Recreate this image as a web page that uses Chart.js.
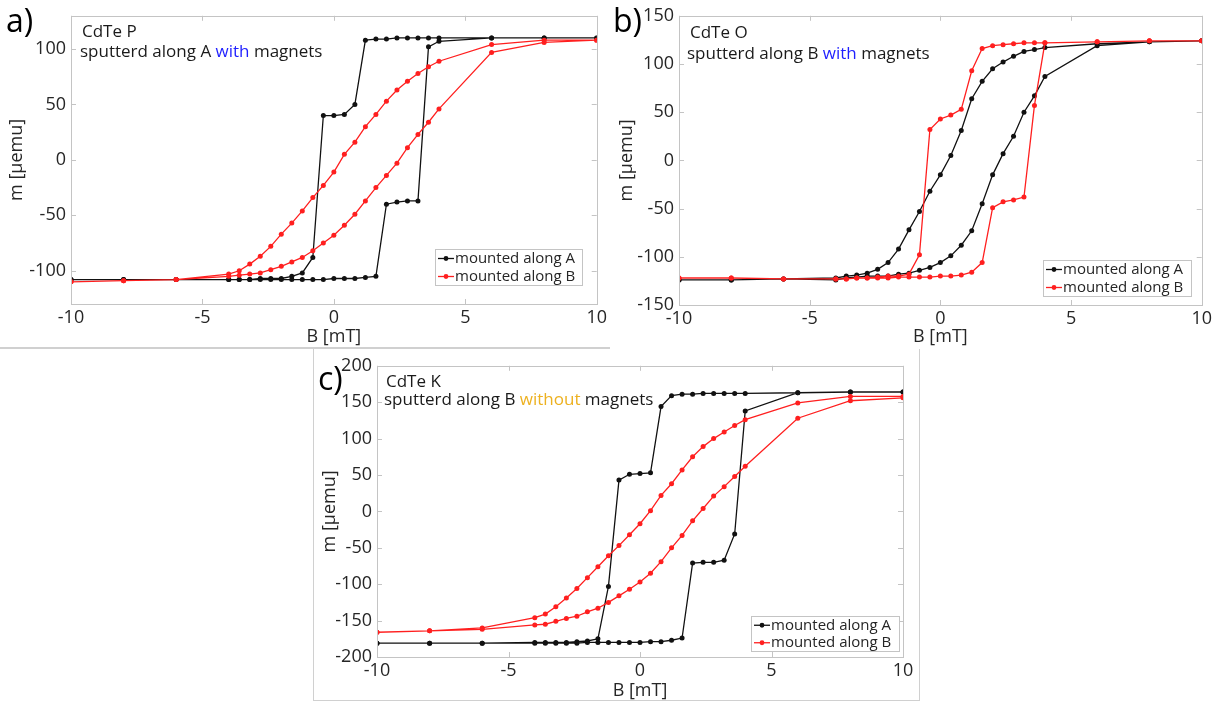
<!DOCTYPE html>
<html>
<head>
<meta charset="utf-8">
<script src="https://cdn.jsdelivr.net/npm/chart.js@4.4.1/dist/chart.umd.min.js"></script>
<style>
body { margin: 0; background: #fff; width: 1215px; height: 704px; position: relative; overflow: hidden; font-family: "Open Sans", sans-serif; }
canvas { position: absolute; }
.tag { position: absolute; font-size: 32px; color: #000; line-height: 1; }
</style>
</head>
<body>
<div style="position:absolute;left:0;top:347px;width:610px;border-top:2px solid #d0d0d0"></div>
<div style="position:absolute;left:313px;top:349px;width:605px;height:351px;border:1px solid #d0d0d0;border-top:none"></div>
<canvas id="chartA" width="610" height="348" style="left:0;top:0"></canvas>
<canvas id="chartB" width="605" height="348" style="left:610px;top:0"></canvas>
<canvas id="chartC" width="605" height="352" style="left:313px;top:350px"></canvas>
<div class="tag" style="left:6px;top:4px">a)</div>
<div class="tag" style="left:613px;top:4px">b)</div>
<div class="tag" style="left:318px;top:362px">c)</div>
<script>
// field sweep: down from +10 to -10, then back up
const fieldDown = [10, 8, 6, 4, 3.6, 3.2, 2.8, 2.4, 2.0, 1.6, 1.2, 0.8, 0.4, 0, -0.4, -0.8, -1.2, -1.6, -2.0, -2.4, -2.8, -3.2, -3.6, -4, -6, -8, -10];
const fieldUp = [-10, -8, -6, -4, -3.6, -3.2, -2.8, -2.4, -2.0, -1.6, -1.2, -0.8, -0.4, 0, 0.4, 0.8, 1.2, 1.6, 2.0, 2.4, 2.8, 3.2, 3.6, 4, 6, 8, 10];
const xTicks = [-10, -5, 0, 5, 10];

// a) CdTe P
const pAlongA_down = [110, 110, 110, 110, 110, 110, 110, 110, 109, 109, 108, 50, 41, 40, 40, -88, -102, -105, -107, -107, -107, -108, -108, -108, -108, -108, -108];
const pAlongA_up = [-108, -108, -108, -108, -108, -108, -108, -108, -108, -108, -108, -108, -108, -107, -107, -107, -106, -105, -40, -38, -37, -37, 102, 107, 110, 110, 110];
const pAlongB_down = [108, 108, 104, 89, 84, 78, 71, 63, 53, 41, 30, 16, 5, -11, -23, -34, -46, -57, -67, -78, -87, -94, -100, -103, -108, -109, -110];
const pAlongB_up = [-110, -109, -108, -105, -104, -103, -102, -99, -96, -92, -88, -82, -75, -68, -59, -49, -37, -25, -14, -3, 11, 23, 34, 46, 97, 106, 108];
const pTicks = [-100, -50, 0, 50, 100];

// b) CdTe O
const oAlongA_down = [124, 123, 121, 117, 115, 113, 108, 102, 95, 82, 64, 31, 5, -15, -32, -53, -72, -92, -106, -113, -117, -119, -120, -122, -123, -124, -124];
const oAlongA_up = [-124, -124, -123, -124, -122, -121, -120, -120, -120, -118, -117, -114, -111, -106, -99, -88, -73, -45, -15, 7, 25, 50, 67, 87, 119, 123, 124];
const oAlongB_down = [124, 124, 123, 122, 122, 122, 121, 120, 119, 116, 93, 53, 47, 43, 32, -98, -118, -120, -120, -121, -122, -122, -123, -123, -123, -122, -122];
const oAlongB_up = [-122, -122, -123, -123, -123, -122, -122, -122, -122, -121, -121, -121, -121, -120, -120, -119, -116, -106, -49, -43, -41, -38, 57, 122, 123, 124, 124];
const oTicks = [-150, -100, -50, 0, 50, 100, 150];

// c) CdTe K
const kAlongA_down = [164, 164, 163, 162, 162, 162, 162, 162, 161, 161, 159, 144, 53, 52, 51, 43, -103, -175, -178, -179, -180, -180, -180, -180, -181, -181, -181];
const kAlongA_up = [-181, -181, -181, -181, -181, -181, -181, -181, -180, -180, -180, -180, -180, -180, -179, -179, -177, -174, -71, -70, -70, -67, -31, 138, 163, 164, 164];
const kAlongB_down = [158, 158, 149, 126, 118, 109, 100, 89, 75, 57, 38, 22, 1, -17, -32, -47, -61, -76, -91, -106, -119, -131, -141, -146, -160, -164, -166];
const kAlongB_up = [-166, -164, -162, -156, -155, -151, -147, -144, -138, -133, -125, -116, -107, -97, -85, -69, -50, -33, -13, 4, 21, 34, 48, 62, 128, 152, 156];
const kTicks = [-200, -150, -100, -50, 0, 50, 100, 150, 200];

const seriesNames = ['mounted along A', 'mounted along B'];
const seriesColors = ['#111111', '#ff1f1f'];

const txt = '#262626';
const boxGray = '#c4c4c4';

const toLoop = (down, up) =>
    fieldDown.map((b, i) => ({ x: b, y: down[i] })).concat(fieldUp.map((b, i) => ({ x: b, y: up[i] })));

// frame on all four sides with small inward ticks (matlab style)
const frameBox = {
    id: 'frameBox',
    afterDraw(chart) {
        const { ctx, chartArea: a, scales } = chart;
        ctx.save();
        ctx.strokeStyle = boxGray;
        ctx.lineWidth = 1;
        ctx.strokeRect(Math.round(a.left) + 0.5, Math.round(a.top) + 0.5, Math.round(a.right - a.left), Math.round(a.bottom - a.top));
        ctx.beginPath();
        scales.x.ticks.forEach(t => {
            const px = Math.round(scales.x.getPixelForValue(t.value)) + 0.5;
            ctx.moveTo(px, a.bottom); ctx.lineTo(px, a.bottom - 5);
            ctx.moveTo(px, a.top); ctx.lineTo(px, a.top + 5);
        });
        scales.y.ticks.forEach(t => {
            const py = Math.round(scales.y.getPixelForValue(t.value)) + 0.5;
            ctx.moveTo(a.left, py); ctx.lineTo(a.left + 5, py);
            ctx.moveTo(a.right, py); ctx.lineTo(a.right - 5, py);
        });
        ctx.stroke();
        ctx.restore();
    }
};

// sample name + coloured note in the top-left corner
const noteText = {
    id: 'noteText',
    afterDraw(chart, args, opts) {
        const { ctx, chartArea: a } = chart;
        ctx.save();
        ctx.font = '17px "Open Sans"';
        ctx.textBaseline = 'middle';
        opts.lines.forEach((line, i) => {
            let x = a.left + opts.x[i];
            const y = a.top + opts.y[i];
            line.forEach(([s, c]) => {
                ctx.fillStyle = c;
                ctx.fillText(s, x, y);
                x += ctx.measureText(s).width;
            });
        });
        ctx.restore();
    }
};

const boxLegend = {
    id: 'boxLegend',
    afterDraw(chart, args, opts) {
        const { ctx, chartArea: a } = chart;
        const x = Math.round(a.right - opts.right - opts.width);
        const y = Math.round(a.bottom - opts.bottom - opts.height);
        ctx.save();
        ctx.fillStyle = '#fff';
        ctx.fillRect(x, y, opts.width, opts.height);
        ctx.strokeStyle = boxGray;
        ctx.lineWidth = 1;
        ctx.strokeRect(x + 0.5, y + 0.5, opts.width, opts.height);
        ctx.font = '15px "Open Sans"';
        ctx.textBaseline = 'middle';
        chart.data.datasets.forEach((ds, i) => {
            const cy = y + opts.height * (i + 0.5) / 2 + 0.5;
            ctx.strokeStyle = ds.borderColor;
            ctx.lineWidth = 1.3;
            ctx.beginPath();
            ctx.moveTo(x + 3, cy); ctx.lineTo(x + 19, cy);
            ctx.stroke();
            ctx.fillStyle = ds.borderColor;
            ctx.beginPath();
            ctx.arc(x + 11, cy, 2.4, 0, Math.PI * 2);
            ctx.fill();
            ctx.fillStyle = txt;
            ctx.fillText(ds.label, x + 20, cy);
        });
        ctx.restore();
    }
};

const makePanel = (id, p) => {
    const datasets = p.series.map((s, i) => ({
        label: seriesNames[i],
        data: toLoop(s[0], s[1]),
        showLine: true,
        borderColor: seriesColors[i],
        backgroundColor: seriesColors[i],
        borderWidth: 1.3,
        pointRadius: 2.5,
        pointBorderWidth: 0,
        order: 1 - i
    }));
    new Chart(document.getElementById(id), {
        type: 'scatter',
        data: { datasets },
        options: {
            responsive: false,
            animation: false,
            devicePixelRatio: 1,
            layout: { padding: { top: p.top, right: p.right, left: 0, bottom: 0 } },
            plugins: {
                legend: { display: false },
                tooltip: { enabled: false },
                noteText: p.note,
                boxLegend: p.legend
            },
            scales: {
                x: {
                    type: 'linear', min: -10, max: 10,
                    afterBuildTicks: s => { s.ticks = xTicks.map(v => ({ value: v })); },
                    afterFit: s => { s.height = p.xHeight; },
                    ticks: { color: txt, font: { size: 18, family: 'Open Sans' }, padding: 3, maxRotation: 0 },
                    grid: { display: false, drawTicks: false },
                    border: { display: false },
                    title: { display: true, text: 'B [mT]', color: txt, font: { size: 18, family: 'Open Sans' }, padding: { top: 0, bottom: 0 } }
                },
                y: {
                    type: 'linear', min: p.yMin, max: p.yMax,
                    afterBuildTicks: s => { s.ticks = p.yTicks.map(v => ({ value: v })); },
                    afterFit: s => { s.width = p.yWidth; },
                    ticks: { color: txt, font: { size: 18, family: 'Open Sans' }, padding: 5 },
                    grid: { display: false, drawTicks: false },
                    border: { display: false },
                    title: { display: true, text: 'm [μemu]', color: txt, font: { size: 18, family: 'Open Sans' }, padding: { top: 6, bottom: 0 } }
                }
            }
        },
        plugins: [frameBox, noteText, boxLegend]
    });
};

makePanel('chartA', {
    series: [[pAlongA_down, pAlongA_up], [pAlongB_down, pAlongB_up]],
    yMin: -130, yMax: 130, yTicks: pTicks,
    yWidth: 71, xHeight: 44, top: 9, right: 13,
    note: { x: [11, 9], y: [16, 36], lines: [[['CdTe P', '#1a1a1a']], [['sputterd along A ', '#1a1a1a'], ['with', '#1f1fff'], [' magnets', '#1a1a1a']]] },
    legend: { width: 147, height: 36, right: 15, bottom: 19 }
});

makePanel('chartB', {
    series: [[oAlongA_down, oAlongA_up], [oAlongB_down, oAlongB_up]],
    yMin: -150, yMax: 150, yTicks: oTicks,
    yWidth: 69, xHeight: 43, top: 8, right: 12,
    note: { x: [11, 8], y: [17, 38], lines: [[['CdTe O', '#1a1a1a']], [['sputterd along B ', '#1a1a1a'], ['with', '#1f1fff'], [' magnets', '#1a1a1a']]] },
    legend: { width: 148, height: 36, right: 11, bottom: 9 }
});

makePanel('chartC', {
    series: [[kAlongA_down, kAlongA_up], [kAlongB_down, kAlongB_up]],
    yMin: -200, yMax: 200, yTicks: kTicks,
    yWidth: 64, xHeight: 45, top: 10, right: 15,
    note: { x: [9, 7], y: [16, 34], lines: [[['CdTe K', '#1a1a1a']], [['sputterd along B ', '#1a1a1a'], ['without', '#edb120'], [' magnets', '#1a1a1a']]] },
    legend: { width: 148, height: 35, right: 4, bottom: 6 }
});
</script>
</body>
</html>
